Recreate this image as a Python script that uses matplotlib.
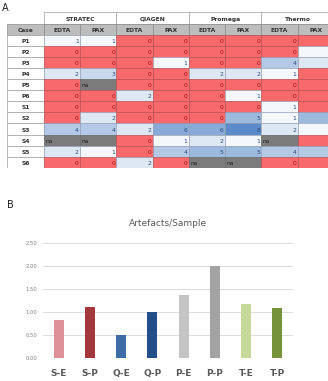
import numpy as np
import matplotlib
matplotlib.use('Agg')
import matplotlib.pyplot as plt
from matplotlib.patches import Rectangle
from matplotlib.colors import LinearSegmentedColormap

# ---- data: panel A table ----
kits = ['STRATEC', 'QIAGEN', 'Promega', 'Thermo']
tubes = ['EDTA', 'PAX']
cases = ['P1', 'P2', 'P3', 'P4', 'P5', 'P6', 'S1', 'S2', 'S3', 'S4', 'S5', 'S6']
NA = None
counts = [
    [1, 1, 0, 0, 0, 0, 0, 0],
    [0, 0, 0, 0, 0, 0, 0, 1],
    [0, 0, 0, 1, 0, 0, 4, 2],
    [2, 3, 0, 0, 2, 2, 1, 0],
    [0, NA, 0, 0, 0, 0, 0, 0],
    [0, 0, 2, 0, 0, 1, 0, 0],
    [0, 0, 0, 0, 0, 0, 1, 0],
    [0, 2, 0, 0, 0, 5, 1, 5],
    [4, 4, 2, 6, 6, 8, 2, 1],
    [NA, NA, 0, 1, 2, 1, NA, 0],
    [2, 1, 0, 4, 5, 5, 4, 4],
    [0, 0, 2, 0, NA, NA, 0, 0],
]

# ---- data: panel B bars ----
bar_labels = ['S-E', 'S-P', 'Q-E', 'Q-P', 'P-E', 'P-P', 'T-E', 'T-P']
bar_values = [0.82, 1.10, 0.50, 1.00, 1.36, 2.00, 1.18, 1.09]
bar_colors = ['#dc9198', '#a2383b', '#3d6ca6', '#244f88',
              '#c4c4c4', '#a3a3a3', '#c6d99b', '#76923b']

W, H = 328, 381
fig = plt.figure(figsize=(W / 100, H / 100), dpi=100)

def box(l, t, r, b):
    # pixel box -> figure fraction [left, bottom, width, height]
    return [l / W, 1 - b / H, (r - l) / W, (b - t) / H]

# ---------- panel A ----------
case_w = 1.02
ax = fig.add_axes(box(7, 12.4, 334, 167.8))
ax.set_xlim(-case_w, 8)
ax.set_ylim(14, 0)
ax.axis('off')

blues = LinearSegmentedColormap.from_list('b', ['#f4f7fc', '#5b8bc8'])
red = '#f8696b'
fs = 4.3
txt = dict(fontsize=fs, va='center_baseline')
last_col = 7  # right-most column is cut by the picture edge, its numbers are not visible

# header row 1: kit names
for k, kit in enumerate(kits):
    ax.add_patch(Rectangle((2 * k, 0), 2, 1, fc='white', ec='#a0a0a0', lw=0.5))
    ax.text(2 * k + 1, 0.55, kit, ha='center', fontweight='bold',
            color='#333333', **txt)
# header row 2
ax.add_patch(Rectangle((-case_w, 1), case_w, 1, fc='#bdbdbd', ec='#8a8a8a', lw=0.5))
ax.text(-case_w / 2, 1.55, 'Case', ha='center', fontweight='bold',
        color='#333333', **txt)
for c in range(8):
    ax.add_patch(Rectangle((c, 1), 1, 1, fc='#bdbdbd', ec='#8a8a8a', lw=0.5))
    ax.text(c + 0.5, 1.55, tubes[c % 2], ha='center', fontweight='bold',
            color='#333333', **txt)

# data rows
for r, name in enumerate(cases):
    y = r + 2
    ax.add_patch(Rectangle((-case_w, y), case_w, 1, fc='white', ec='#a0a0a0', lw=0.5))
    ax.text(-case_w / 2, y + 0.55, name, ha='center', fontweight='bold',
            color='#333333', **txt)
    for c, v in enumerate(counts[r]):
        if v is None:
            ax.add_patch(Rectangle((c, y), 1, 1, fc='#7b7b7b', ec='#6a6a6a', lw=0.5))
            ax.text(c + 0.04, y + 0.55, 'na', ha='left', color='#222222', **txt)
            continue
        if v == 0:
            fc, ec, tc = red, '#b5474a', '#a80f12'
        else:
            fc, ec, tc = blues((v - 1) / 7), '#8f9bb0', '#2e4a78'
        ax.add_patch(Rectangle((c, y), 1, 1, fc=fc, ec=ec, lw=0.4))
        if c < last_col:
            ax.text(c + 0.96, y + 0.55, str(v), ha='right', color=tc, **txt)

fig.text(2 / W, 1 - 8 / H, 'A', fontsize=7, va='center', ha='left', color='#222222')

# ---------- panel B ----------
bx = fig.add_axes(box(43, 243, 293, 358))
x = np.arange(len(bar_labels))
bx.bar(x, bar_values, width=0.32, color=bar_colors, zorder=3)
bx.set_xlim(-0.5, len(bar_labels) - 0.5)
bx.set_ylim(0, 2.5)
bx.set_yticks(np.arange(0, 2.51, 0.5))
bx.set_yticklabels(['%.2f' % t for t in np.arange(0, 2.51, 0.5)])
bx.grid(axis='y', color='#dcdcdc', lw=0.7, zorder=0)
for s in bx.spines.values():
    s.set_visible(False)
bx.tick_params(axis='y', length=0, labelsize=3.8, labelcolor='#808080', pad=4)
bx.set_xticks(x)
bx.set_xticklabels(bar_labels, fontsize=6.5, fontweight='bold', color='#595959')
bx.tick_params(axis='x', length=0, pad=8)
bx.set_title('Artefacts/Sample', fontsize=6.5, color='#595959', pad=12)

fig.text(7 / W, 1 - 205 / H, 'B', fontsize=7, va='center', ha='left', color='#222222')

plt.savefig('out.png', dpi=100)
